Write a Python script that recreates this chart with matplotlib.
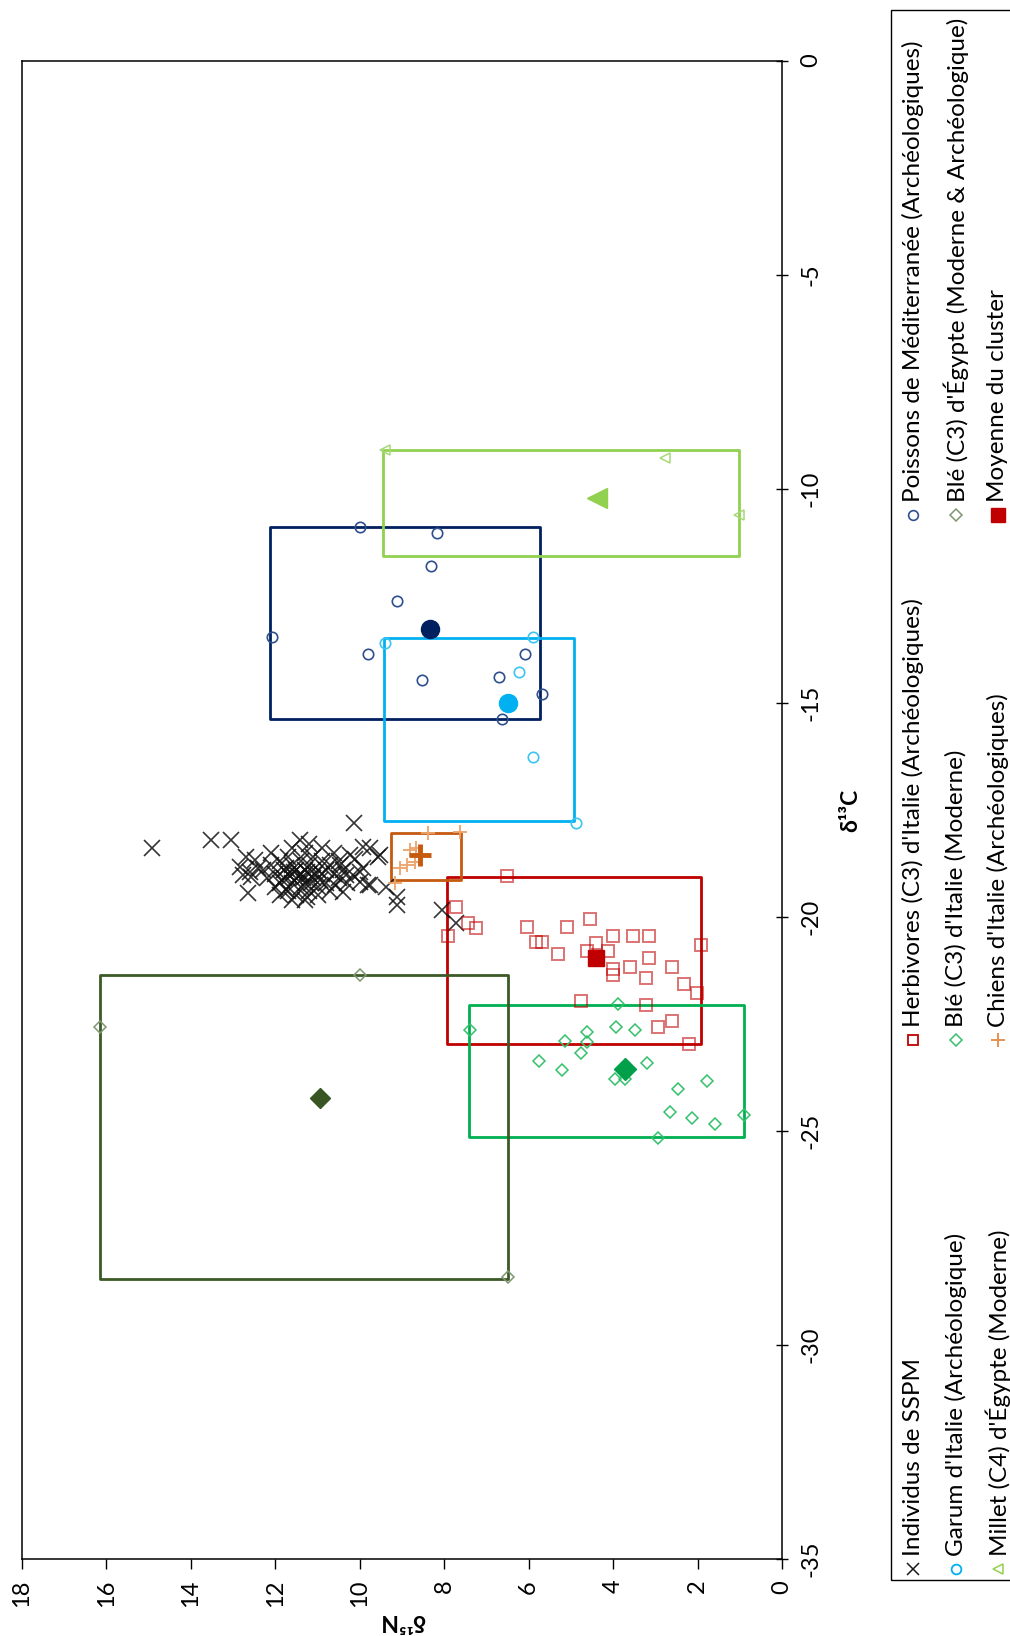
import matplotlib
matplotlib.use('Agg')
import matplotlib.pyplot as plt
from matplotlib.patches import Rectangle
from matplotlib.lines import Line2D

plt.rcParams['font.family'] = ['Lato', 'DejaVu Sans']
plt.rcParams['axes.unicode_minus'] = False

# ---------------- data (δ15N, δ13C) ----------------
sspm_n = [14.91, 13.52, 13.04, 10.14, 11.42, 12.69, 12.84, 12.61, 12.77, 12.65,
          10.12, 9.76, 9.57, 9.92, 10.16, 10.00, 9.80, 9.37, 9.13, 9.13, 8.06, 7.71,
          12.57, 12.41, 12.49, 10.47, 10.32, 10.59, 10.40, 10.24, 9.92, 9.53, 10.00, 9.76,
          11.26, 11.74,
          12.3, 12.2, 12.1, 12.0, 12.0, 11.9, 11.9, 11.8, 11.8, 11.7,
          11.7, 11.7, 11.6, 11.6, 11.5, 11.5, 11.5, 11.4, 11.4, 11.4,
          11.3, 11.3, 11.3, 11.2, 11.2, 11.2, 11.1, 11.1, 11.0, 11.0,
          10.9, 10.9, 10.8, 10.8, 10.7, 10.6, 10.5, 10.5, 10.4, 10.3,
          11.9, 11.6, 11.3, 11.0, 10.7, 12.1, 11.6, 11.2, 10.9, 10.6,
          11.45, 11.55, 11.35, 11.65, 11.25, 11.75, 11.85, 11.15, 11.05, 10.95]
sspm_c = [-18.40, -18.21, -18.21, -17.80, -18.21, -18.60, -18.83, -18.95, -19.03, -19.45,
          -18.64, -18.40, -18.60, -18.87, -19.03, -19.18, -19.26, -19.30, -19.53, -19.73, -19.84, -20.15,
          -19.07, -18.87, -18.68, -18.79, -19.03, -19.26, -19.42, -18.56, -18.36, -18.56, -18.95, -19.26,
          -19.53, -19.38,
          -18.9, -19.1, -18.8, -19.0, -19.3, -18.7, -19.2, -18.9, -19.1, -18.6,
          -19.0, -19.4, -18.8, -19.2, -18.9, -19.1, -19.5, -18.7, -19.0, -19.3,
          -18.5, -18.9, -19.2, -18.8, -19.0, -19.4, -18.6, -19.1, -18.9, -19.3,
          -18.7, -19.0, -18.9, -19.2, -18.8, -19.0, -19.1, -18.7, -18.9, -19.2,
          -19.5, -19.6, -19.6, -19.5, -19.4, -18.5, -18.4, -18.3, -18.4, -18.5,
          -19.05, -18.95, -19.1, -19.05, -18.95, -18.85, -19.15, -19.2, -19.0, -19.15]

herb_n = [6.51, 7.73, 7.43, 7.24, 7.91, 6.03, 5.09, 4.55, 5.83, 5.69, 5.30, 4.63, 4.41, 4.13,
          4.01, 3.54, 3.14, 1.93, 3.14, 3.60, 4.01, 4.01, 3.21, 2.60, 2.32, 2.01, 4.75, 3.21,
          2.60, 2.93, 2.20]
herb_c = [-19.05, -19.78, -20.15, -20.26, -20.45, -20.25, -20.25, -20.05, -20.58, -20.58,
          -20.86, -20.79, -20.62, -20.79, -20.45, -20.45, -20.45, -20.65, -20.97, -21.18,
          -21.21, -21.36, -21.44, -21.18, -21.57, -21.77, -21.97, -22.05, -22.43, -22.57, -22.96]

pois_n = [10.00, 8.18, 8.32, 9.13, 12.09, 9.80, 6.09, 8.52, 6.70, 5.69, 6.64]
pois_c = [-10.89, -11.03, -11.81, -12.62, -13.47, -13.87, -13.87, -14.47, -14.39, -14.80, -15.39]

garum_n = [9.41, 5.89, 6.23, 5.89, 4.89]
garum_c = [-13.60, -13.46, -14.28, -16.26, -17.80]

bleit_n = [7.39, 3.88, 3.94, 3.47, 4.61, 4.61, 5.14, 4.75, 5.76, 5.22, 3.20, 3.96, 3.72,
           1.78, 2.46, 2.66, 2.12, 1.58, 0.91, 2.93]
bleit_c = [-22.65, -22.04, -22.57, -22.65, -22.70, -22.92, -22.90, -23.17, -23.37, -23.58,
           -23.42, -23.78, -23.79, -23.83, -24.03, -24.57, -24.70, -24.84, -24.63, -25.16]

bleeg_n = [10.00, 16.15, 6.50]
bleeg_c = [-21.36, -22.57, -28.42]

millet_n = [9.41, 2.77, 1.03]
millet_c = [-9.10, -9.29, -10.62]

chien_n = [8.38, 7.63, 8.82, 8.66, 8.70, 8.88, 9.05, 9.17]
chien_c = [-18.05, -18.03, -18.44, -18.40, -18.72, -18.79, -18.87, -19.22]

# cluster means (δ15N, δ13C)
mean_pois = (8.33, -13.28)
mean_garum = (6.50, -15.00)
mean_millet = (4.39, -10.23)
mean_bleeg = (10.95, -24.23)
mean_bleit = (3.72, -23.56)
mean_herb = (4.41, -20.97)
mean_chien = (8.58, -18.56)

# cluster range boxes: (δ15N max, δ15N min, δ13C max, δ13C min)
box_pois = (12.13, 5.73, -10.89, -15.37)
box_garum = (9.43, 4.92, -13.48, -17.76)
box_millet = (9.45, 1.02, -9.10, -11.57)
box_bleeg = (16.15, 6.50, -21.35, -28.45)
box_bleit = (7.42, 0.91, -22.05, -25.15)
box_herb = (7.93, 1.93, -19.08, -22.97)
box_chien = (9.25, 7.61, -18.05, -19.14)

x_ticks = [18, 16, 14, 12, 10, 8, 6, 4, 2, 0]
y_ticks = [0, -5, -10, -15, -20, -25, -30, -35]

legend_labels = [
    ["Individus de SSPM", "Herbivores (C3) d'Italie (Archéologiques)", "Poissons de Méditerranée (Archéologiques)"],
    ["Garum d'Italie (Archéologique)", "Blé (C3) d'Italie (Moderne)", "Blé (C3) d'Égypte (Moderne & Archéologique)"],
    ["Millet (C4) d'Égypte (Moderne)", "Chiens d'Italie (Archéologiques)", "Moyenne du cluster"],
]

# ---------------- figure ----------------
W, H = 1010, 1636
fig = plt.figure(figsize=(W / 100, H / 100), dpi=100)
ax = fig.add_axes([22 / W, 1 - 1559 / H, (782 - 22) / W, (1559 - 60.5) / H])
ax.set_xlim(18, 0)
ax.set_ylim(-35, 0)

C_POIS, C_GARUM, C_MILLET = '#002060', '#00B0F0', '#92D050'
C_BLEEG, C_BLEIT, C_HERB, C_CHIEN = '#3B5A26', '#00B050', '#C00000', '#C55A11'


def draw_box(b, color, z):
    ax.add_patch(Rectangle((b[1], b[3]), b[0] - b[1], b[2] - b[3], fill=False,
                           edgecolor=color, lw=2.0, zorder=z, joinstyle='round'))


draw_box(box_herb, C_HERB, 2)
draw_box(box_bleit, C_BLEIT, 2.1)
draw_box(box_bleeg, C_BLEEG, 2.2)
draw_box(box_pois, C_POIS, 2.3)
draw_box(box_garum, C_GARUM, 2.4)
draw_box(box_millet, C_MILLET, 2.5)
draw_box(box_chien, C_CHIEN, 2.6)

ms = 7.5
ax.plot(sspm_n, sspm_c, ls='none', marker='x', ms=11.5, mew=1.2, color='#111111', alpha=0.85, zorder=3)
ax.plot(herb_n, herb_c, ls='none', marker='s', ms=8.5, mfc='none', mew=1.4, mec=C_HERB, alpha=0.55, zorder=3)
ax.plot(pois_n, pois_c, ls='none', marker='o', ms=ms, mfc='none', mew=1.2, mec='#2F4F8F', zorder=3)
ax.plot(garum_n, garum_c, ls='none', marker='o', ms=ms, mfc='none', mew=1.2, mec='#3CC4F2', zorder=3)
ax.plot(bleit_n, bleit_c, ls='none', marker='D', ms=6.5, mfc='none', mew=1.1, mec='#35C06C', zorder=3)
ax.plot(bleeg_n, bleeg_c, ls='none', marker='D', ms=6.5, mfc='none', mew=1.1, mec='#7F9673', zorder=3)
ax.plot(millet_n, millet_c, ls='none', marker='<', ms=ms, mfc='none', mew=1.1, mec='#A6DA78', zorder=3)
ax.plot(chien_n, chien_c, ls='none', marker='+', ms=10, mew=1.3, color='#EDA36A', zorder=3)

ax.plot(*mean_pois, marker='o', ms=13, color=C_POIS, ls='none', zorder=5)
ax.plot(*mean_garum, marker='o', ms=13, color=C_GARUM, ls='none', zorder=5)
ax.plot(*mean_millet, marker='<', ms=14, color=C_MILLET, ls='none', zorder=5)
ax.plot(*mean_bleeg, marker='D', ms=10, color='#375623', ls='none', zorder=5)
ax.plot(*mean_bleit, marker='D', ms=11, color='#00A04A', ls='none', zorder=5)
ax.plot(*mean_herb, marker='s', ms=12, color=C_HERB, ls='none', zorder=5)
ax.plot(*mean_chien, marker='+', ms=16, mew=3.5, color=C_CHIEN, ls='none', zorder=5)

ax.set_xticks(x_ticks)
ax.set_xticklabels([str(v) for v in x_ticks], rotation=90)
ax.set_yticks(y_ticks)
ax.set_yticklabels([str(v) for v in y_ticks], rotation=90, va='center')
ax.yaxis.tick_right()
ax.tick_params(axis='x', direction='out', length=7, width=1, pad=8, labelsize=17)
ax.tick_params(axis='y', direction='inout', length=9, width=1, pad=9, labelsize=17)
for sp in ax.spines.values():
    sp.set_linewidth(1.1)
    sp.set_color('black')

fig.text(402 / W, 1 - 1621 / H, 'δ¹⁵N', rotation=180, ha='center', va='center',
         fontsize=16.5, fontweight='bold')
fig.text(851 / W, 1 - 810 / H, 'δ¹³C', rotation=90, ha='center', va='center',
         fontsize=16.5, fontweight='bold')

# ---------------- legend (rotated, drawn manually) ----------------
fig.add_artist(Rectangle((891 / W, 1 - 1580 / H), 130 / W, (1580 - 9.5) / H,
                         transform=fig.transFigure, fill=False, edgecolor='black', lw=1.0))
col_x = [913, 956, 998]
row_y = [1569, 1040, 515]
leg_style = [
    [dict(marker='x', ms=9, mew=1.1, color='#1a1a1a', mfc='none'),
     dict(marker='s', ms=7, mew=1.3, mec=C_HERB, mfc='none'),
     dict(marker='o', ms=7, mew=1.2, mec='#2F4F8F', mfc='none')],
    [dict(marker='o', ms=7, mew=1.3, mec=C_GARUM, mfc='none'),
     dict(marker='D', ms=6, mew=1.1, mec='#35C06C', mfc='none'),
     dict(marker='D', ms=6, mew=1.1, mec='#7F9673', mfc='none')],
    [dict(marker='<', ms=7, mew=1.1, mec='#92D050', mfc='none'),
     dict(marker='+', ms=10, mew=1.3, color='#E38A45'),
     dict(marker='s', ms=10, color=C_HERB)],
]
for i, cx in enumerate(col_x):
    for j, ry in enumerate(row_y):
        fig.add_artist(Line2D([cx / W], [1 - ry / H], transform=fig.transFigure,
                              ls='none', **leg_style[i][j]))
        fig.text(cx / W, 1 - (ry - 13) / H, legend_labels[i][j], rotation=90,
                 ha='center', va='bottom', fontsize=17.5, color='black')

fig.savefig('out.png', dpi=100)
